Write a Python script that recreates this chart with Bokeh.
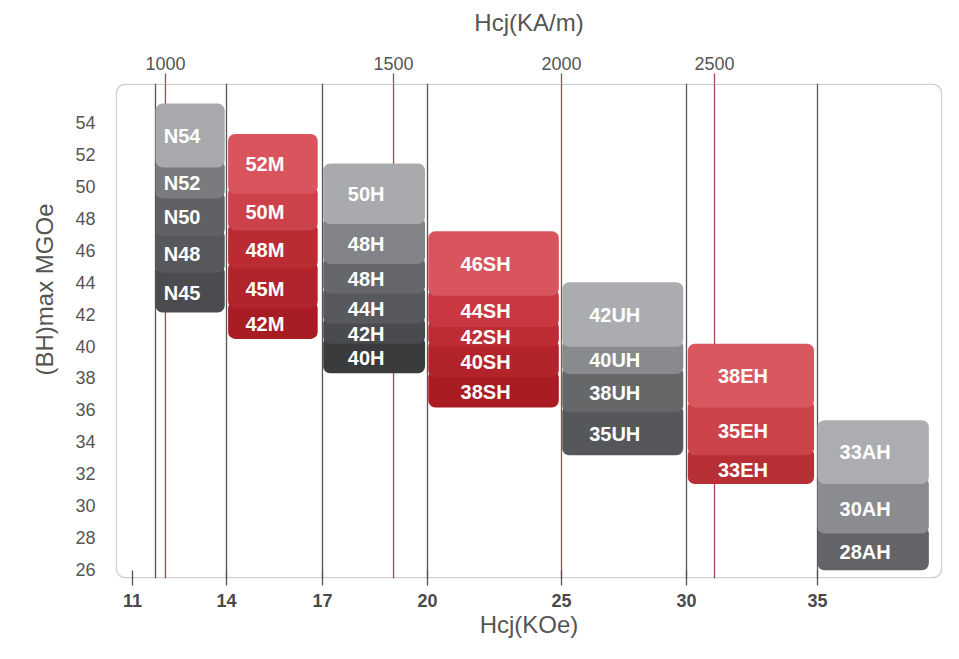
import numpy as np
from bokeh.plotting import figure
from bokeh.models import (Range1d, LinearAxis, FixedTicker, Span, BoxAnnotation,
                          Title, ColumnDataSource)
from bokeh.core.properties import value
from bokeh.embed import file_html
from bokeh.resources import INLINE

# ---------------- data ----------------
# Hcj (KOe) axis of the chart is not linear: knots of the drawn scale
scale_koe = [11, 12, 14, 17, 20, 25, 30, 35, 40]
scale_pos = [17, 40, 111, 207, 312, 446, 571, 702, 833]

koe_ticks = [11, 14, 17, 20, 25, 30, 35]
kam_ticks = [1000, 1500, 2000, 2500]            # Hcj (KA/m), top axis
kam_ticks_koe = [12.28, 19.03, 25.0, 31.07]      # where the chart draws them
divider_koe = [12, 14, 17, 20, 30, 35]
bh_ticks = list(range(26, 55, 2))

group_x0 = [12.0, 14.05, 17.02, 20.03, 25.03, 30.05, 35.0]
group_x1 = [13.95, 16.85, 19.93, 24.9, 29.87, 34.87, 39.25]

n_labels = ["N54", "N52", "N50", "N48", "N45"]
n_bounds = [55.2, 51.2, 49.25, 46.9, 44.6, 42.1]
n_colors = ["#a8a9ac", "#7a7b7f", "#606165", "#57585c", "#4b4c50"]

m_labels = ["52M", "50M", "48M", "45M", "42M"]
m_bounds = [53.3, 49.55, 47.25, 44.85, 42.35, 40.45]
m_colors = ["#d9545c", "#cd414a", "#bb2b32", "#b2242b", "#a81d23"]

h_labels = ["50H", "48H", "48H", "44H", "42H", "40H"]
h_bounds = [51.45, 47.65, 45.15, 43.3, 41.4, 40.15, 38.3]
h_colors = ["#a9aaad", "#828386", "#66676b", "#58595d", "#4a4b4e", "#3a3b3d"]

sh_labels = ["46SH", "44SH", "42SH", "40SH", "38SH"]
sh_bounds = [47.2, 43.15, 41.2, 39.95, 38.05, 36.15]
sh_colors = ["#d9555d", "#c93840", "#be2d34", "#b3232a", "#a81c22"]

uh_labels = ["42UH", "40UH", "38UH", "35UH"]
uh_bounds = [44.0, 39.95, 38.25, 35.85, 33.15]
uh_colors = ["#abacaf", "#898a8d", "#656769", "#55575a"]

eh_labels = ["38EH", "35EH", "33EH"]
eh_bounds = [40.15, 36.15, 33.15, 31.35]
eh_colors = ["#d9585f", "#cc434a", "#b52f35"]

ah_labels = ["33AH", "30AH", "28AH"]
ah_bounds = [35.35, 31.35, 28.25, 25.95]
ah_colors = ["#acadb0", "#8b8c8f", "#636467"]

groups = [(n_labels, n_bounds, n_colors), (m_labels, m_bounds, m_colors),
          (h_labels, h_bounds, h_colors), (sh_labels, sh_bounds, sh_colors),
          (uh_labels, uh_bounds, uh_colors), (eh_labels, eh_bounds, eh_colors),
          (ah_labels, ah_bounds, ah_colors)]


def xpos(k):
    return np.round(np.interp(k, scale_koe, scale_pos), 2)


# ---------------- figure ----------------
X0, X1 = 0, 827
Y0, Y1 = 25.43, 56.46
FONT = "Liberation Sans"

p = figure(width=959, height=659, x_range=Range1d(X0, X1), y_range=Range1d(Y0, Y1),
           output_backend="svg", toolbar_location=None,
           x_axis_location=None, y_axis_location=None,
           min_border_left=115, min_border_right=17, min_border_top=83,
           min_border_bottom=81)
p.outline_line_color = None
p.background_fill_color = "white"
p.border_fill_color = "white"
for g in p.grid:
    g.visible = False

# bottom axis (KOe)
bt = [float(v) for v in xpos(koe_ticks)]
bottom = LinearAxis(ticker=FixedTicker(ticks=bt),
                    major_label_overrides={t: str(k) for t, k in zip(bt, koe_ticks)})
bottom.axis_line_color = None
bottom.major_tick_line_color = "#555555"
bottom.major_tick_line_width = 1.3
bottom.major_tick_in = 8
bottom.major_tick_out = 7
bottom.minor_tick_line_color = None
bottom.major_label_text_font = FONT
bottom.major_label_text_font_size = "18px"
bottom.major_label_text_font_style = "bold"
bottom.major_label_text_color = "#4a4a4a"
bottom.major_label_standoff = 8
bottom.axis_label = "Hcj(KOe)"
bottom.axis_label_text_font = FONT
bottom.axis_label_text_font_size = "24px"
bottom.axis_label_text_font_style = "normal"
bottom.axis_label_text_color = "#555555"
bottom.axis_label_standoff = 1
p.add_layout(bottom, "below")

# top axis (KA/m)
tt = [float(v) for v in xpos(kam_ticks_koe)]
top = LinearAxis(ticker=FixedTicker(ticks=tt),
                 major_label_overrides={t: str(k) for t, k in zip(tt, kam_ticks)})
top.axis_line_color = None
top.major_tick_line_color = "#a8474f"
top.major_tick_line_width = 1.3
top.major_tick_in = 0
top.major_tick_out = 10
top.minor_tick_line_color = None
top.major_label_text_font = FONT
top.major_label_text_font_size = "18px"
top.major_label_text_color = "#555555"
top.major_label_standoff = 4
top.axis_label = "Hcj(KA/m)"
top.axis_label_text_font = FONT
top.axis_label_text_font_size = "24px"
top.axis_label_text_font_style = "normal"
top.axis_label_text_color = "#555555"
top.axis_label_standoff = 18
p.add_layout(top, "above")

# left axis (BH)max
left = LinearAxis(ticker=FixedTicker(ticks=bh_ticks))
left.axis_line_color = None
left.major_tick_line_color = None
left.minor_tick_line_color = None
left.major_tick_in = 0
left.major_tick_out = 0
left.major_label_text_font = FONT
left.major_label_text_font_size = "18px"
left.major_label_text_color = "#555555"
left.major_label_standoff = 20
p.add_layout(left, "left")

p.add_layout(Title(text="(BH)max MGOe", align="right", offset=120, standoff=30,
                   text_font=FONT, text_font_size="24px", text_font_style="normal",
                   text_color="#555555"), "left")

# vertical lines
for k in divider_koe:
    p.add_layout(Span(location=float(xpos(k)), dimension="height", line_color="#555555",
                      line_width=1.3, level="underlay"))
for t in tt:
    p.add_layout(Span(location=t, dimension="height", line_color="#a8474f",
                      line_width=1.3, level="underlay"))

# frame
p.add_layout(BoxAnnotation(left=X0 + 0.8, right=X1 - 0.8, bottom=Y0 + 0.05, top=Y1 - 0.05,
                           fill_color=None, line_color="#666666", line_width=1.5,
                           border_radius=9, level="underlay"))

# blocks (stacked tiles, drawn bottom-up so upper tiles overlay lower ones)
OVERLAP = 0.45
qx0, qx1, qb, qt, qc = [], [], [], [], []
tx, ty, tl = [], [], []
for gi, (labels, bounds, colors) in enumerate(groups):
    xa = float(xpos(group_x0[gi]))
    xb = float(xpos(group_x1[gi]))
    n = len(labels)
    for i in reversed(range(n)):
        top_v = bounds[i] + (OVERLAP if i > 0 else 0.0)
        qx0.append(xa); qx1.append(xb)
        qb.append(bounds[i + 1]); qt.append(top_v); qc.append(colors[i])
    for i in range(n):
        tx.append((xa + xb) / 2)
        ty.append((bounds[i] + bounds[i + 1]) / 2)
        tl.append(labels[i])

src = ColumnDataSource(dict(left=qx0, right=qx1, bottom=qb, top=qt, color=qc))
p.quad(left="left", right="right", bottom="bottom", top="top", source=src,
       fill_color="color", line_color=None, border_radius=7)

tsrc = ColumnDataSource(dict(x=tx, y=ty, text=tl))
p.text(x="x", y="y", text="text", source=tsrc, x_offset=-8,
       text_align="center", text_baseline="middle", text_color="white",
       text_font=value(FONT), text_font_style="bold", text_font_size="20px")

open("out.html", "w").write(file_html(p, INLINE))
